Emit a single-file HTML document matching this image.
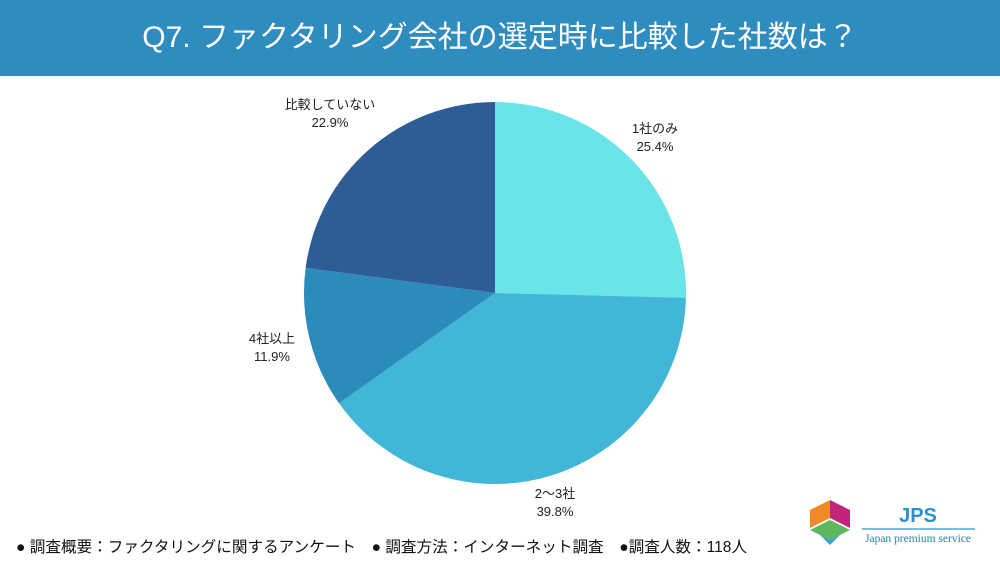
<!DOCTYPE html>
<html><head><meta charset="utf-8"><style>
body{margin:0;width:1000px;height:563px;background:#fff;overflow:hidden;position:relative;font-family:"Liberation Sans","Noto Sans CJK JP",sans-serif}
.hd{position:absolute;left:0;top:0;width:1000px;height:76px;background:#2f8cbf;color:#fff;font-size:30px;text-align:center;line-height:76px}
.lb{position:absolute;font-size:13px;color:#222;text-align:center;line-height:18px}
.ft{position:absolute;left:16px;top:535px;font-size:15.6px;color:#111;white-space:pre}
</style></head><body>
<div class="hd">Q7. ファクタリング会社の選定時に比較した社数は？</div>
<svg style="position:absolute;left:0;top:0" width="1000" height="563">
<path d="M495,293 L495,102 A191,191 0 0 1 685.94,297.80 Z" fill="#6ae4e8"/>
<path d="M495,293 L685.94,297.80 A191,191 0 0 1 339.03,403.25 Z" fill="#42b6d6"/>
<path d="M495,293 L339.03,403.25 A191,191 0 0 1 305.66,267.86 Z" fill="#2b8bbb"/>
<path d="M495,293 L305.66,267.86 A191,191 0 0 1 495,102 Z" fill="#2d5c96"/>
<g transform="translate(810,500)">
<polygon points="20,0 40,10 40,28 20,18" fill="#c2247a"/>
<polygon points="0,10 20,0 20,18 0,28" fill="#f08a24"/>
<polygon points="0,30 20,20 40,30 20,40" fill="#5cb85c"/>
<polygon points="10,35 20,40 30,35 20,45" fill="#3d9fd8"/>
</g>
<text x="918" y="522" font-family="Liberation Sans" font-weight="bold" font-size="20" fill="#2d8fd0" text-anchor="middle">JPS</text>
<line x1="862" y1="529" x2="975" y2="529" stroke="#4aa8d8" stroke-width="1.5"/>
<text x="918" y="542" font-family="Liberation Serif" font-size="11.5" fill="#2d7fb0" text-anchor="middle">Japan premium service</text>
</svg>
<div class="lb" style="left:615px;top:120px;width:80px">1社のみ<br>25.4%</div>
<div class="lb" style="left:515px;top:485px;width:80px">2〜3社<br>39.8%</div>
<div class="lb" style="left:232px;top:330px;width:80px">4社以上<br>11.9%</div>
<div class="lb" style="left:270px;top:96px;width:120px">比較していない<br>22.9%</div>
<div class="ft">● 調査概要：ファクタリングに関するアンケート　● 調査方法：インターネット調査　●調査人数：118人</div>
</body></html>
